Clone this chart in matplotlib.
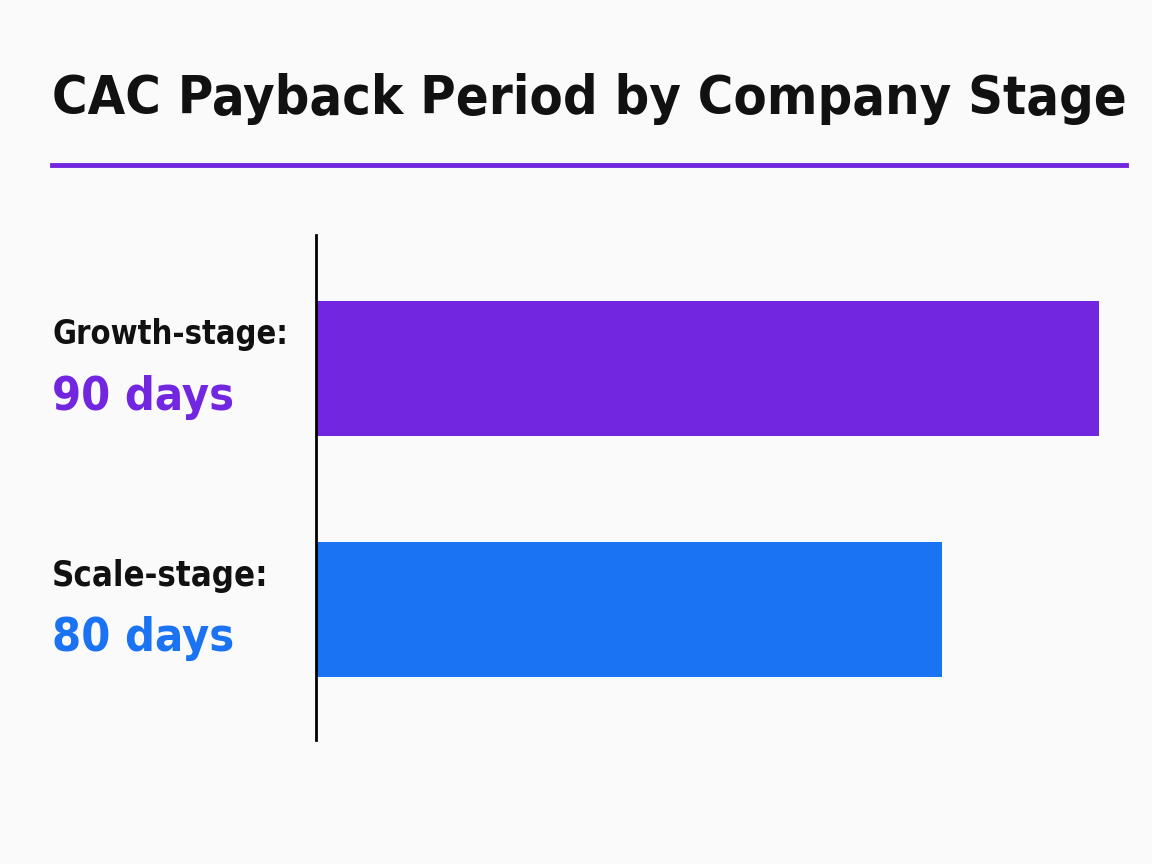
import matplotlib.pyplot as plt
from matplotlib.lines import Line2D

stages = ["Scale-stage:", "Growth-stage:"]
days = [80, 90]
colors = ["#1a73f2", "#7226e0"]
axis_start = 40  # bars drawn from here, as in the source

plt.rcParams['font.family'] = ['DejaVu Sans']
plt.rcParams['font.stretch'] = 'condensed'

fig = plt.figure(figsize=(11.52, 8.64), dpi=100)
fig.patch.set_facecolor("#fafafa")
renderer = fig.canvas.get_renderer()


def fit(t, width_px):
    # shrink a text so that it spans the given width
    w = t.get_window_extent(renderer).width
    t.set_fontsize(t.get_fontsize() * width_px / w)


title = fig.text(0.045, 0.885, "CAC Payback Period by Company Stage", fontsize=50,
                 fontweight='bold', fontstretch='condensed', va='center', ha='left', color='#111111')
fit(title, 1075)
fig.add_artist(Line2D([0.045, 0.977], [0.809, 0.809], color="#7226e0", lw=3.5))

ax = fig.add_axes([0.274, 0.1435, 0.68, 0.5845])
ax.set_facecolor("#fafafa")
ypos = list(range(len(stages)))
ax.barh(ypos, [d - axis_start for d in days], left=axis_start, height=0.56, color=colors)
ax.set_xlim(axis_start, 90 + 0.02)
ax.set_ylim(-0.54, 1.554)
for s in ["top", "right", "bottom"]:
    ax.spines[s].set_visible(False)
ax.spines["left"].set_linewidth(2)
ax.set_xticks([])
ax.set_yticks([])

label_w = {"Growth-stage:": 236, "Scale-stage:": 216}
for y, name, d, c in zip(ypos, stages, days, colors):
    t1 = ax.text(52 / 1152, y + 0.14, name, transform=ax.get_yaxis_transform(), fontsize=30,
                 fontweight='bold', fontstretch='condensed', ha='left', va='center', color='#111111')
    t1.set_transform(fig.transFigure + ax.transData.__class__.__mro__[0].__init__.__class__.__mro__[0]() if False else t1.get_transform())
    fit(t1, label_w[name])
    t2 = ax.text(52 / 1152, y - 0.12, f"{d} days", transform=ax.get_yaxis_transform(), fontsize=38,
                 fontweight='bold', fontstretch='condensed', ha='left', va='center', color=c)
    fit(t2, 182)

# the yaxis transform uses axes x; convert figure x=52px to axes coords
for t in ax.texts:
    t.set_x((52 / 1152 - 0.274) / 0.68)

fig.savefig("out.png", dpi=100, facecolor=fig.get_facecolor())
